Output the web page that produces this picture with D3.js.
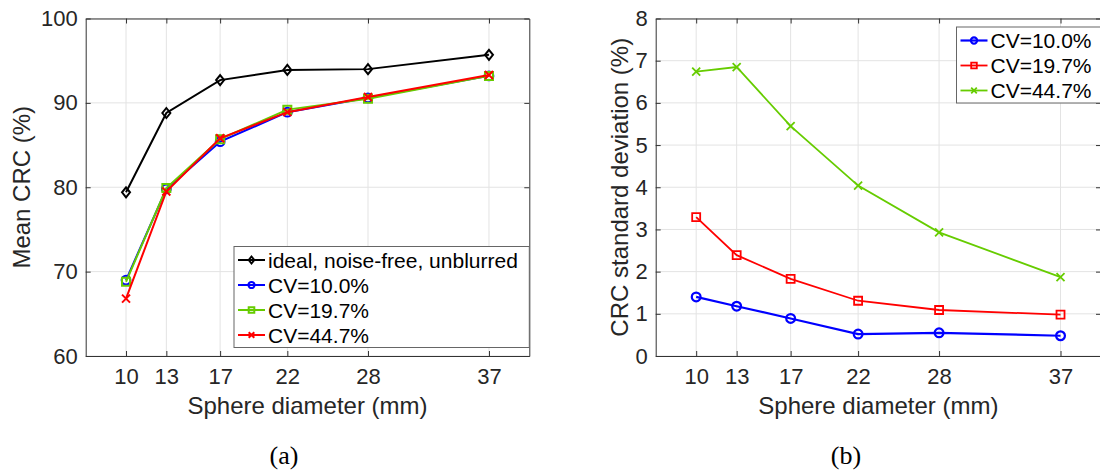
<!DOCTYPE html>
<html>
<head>
<meta charset="utf-8">
<script src="https://cdn.jsdelivr.net/npm/d3@7"></script>
<style>
  body { margin: 0; background: #fff; }
  svg { display: block; font-family: "Liberation Sans", Arial, sans-serif; }
</style>
</head>
<body>
<div id="chart"></div>
<script>
// values
var diameters = [10, 13, 17, 22, 28, 37];

// (a) mean CRC (%)
var crcIdeal = [79.4, 88.8, 92.7, 93.9, 94.0, 95.7];
var crcCV10 = [69.0, 79.8, 85.4, 88.9, 90.6, 93.2];
var crcCV197 = [68.8, 79.9, 85.7, 89.2, 90.5, 93.2];
var crcCV447 = [66.8, 79.5, 85.8, 88.9, 90.7, 93.3];

// (b) CRC standard deviation (%)
var sdCV10 = [1.40, 1.18, 0.89, 0.52, 0.55, 0.48];
var sdCV197 = [3.29, 2.39, 1.83, 1.31, 1.09, 0.98];
var sdCV447 = [6.74, 6.85, 5.45, 4.04, 2.93, 1.87];

var ticksA = [60, 70, 80, 90, 100];
var ticksB = [0, 1, 2, 3, 4, 5, 6, 7, 8];

var W = 1100, H = 476;
var plotTop = 18.5, plotBottom = 356;
var axisCol = "#333", gridCol = "#e3e3e3";

var svg = d3.select("#chart").append("svg")
    .attr("width", W)
    .attr("height", H);

function markerPath(type, s) {
    // s = half size
    if (type == "diamond") return "M0," + (-s * 1.25) + "L" + s + ",0L0," + (s * 1.25) + "L" + (-s) + ",0Z";
    if (type == "square") return "M" + (-s) + "," + (-s) + "h" + (2 * s) + "v" + (2 * s) + "h" + (-2 * s) + "Z";
    if (type == "x") return "M" + (-s) + "," + (-s) + "L" + s + "," + s + "M" + (-s) + "," + s + "L" + s + "," + (-s);
    return "M" + (-s) + ",0a" + s + "," + s + " 0 1,0 " + (2 * s) + ",0a" + s + "," + s + " 0 1,0 " + (-2 * s) + ",0";
}

function drawPanel(p) {
    var x = d3.scaleLinear().domain([7, 40]).range([p.left, p.right]);
    var y = d3.scaleLinear().domain(p.yDomain).range([plotBottom, plotTop]);
    var g = svg.append("g");

    // grid
    g.selectAll(".vgrid").data(diameters).enter().append("line")
        .attr("x1", function (d) { return x(d); }).attr("x2", function (d) { return x(d); })
        .attr("y1", plotTop).attr("y2", plotBottom)
        .attr("stroke", gridCol).attr("stroke-width", 1);
    g.selectAll(".hgrid").data(p.yTicks).enter().append("line")
        .attr("x1", p.left).attr("x2", p.right)
        .attr("y1", function (d) { return y(d); }).attr("y2", function (d) { return y(d); })
        .attr("stroke", gridCol).attr("stroke-width", 1);

    // axes with inward ticks on all four sides
    var tl = 5;
    g.append("g").attr("transform", "translate(0," + plotBottom + ")")
        .call(d3.axisBottom(x).tickValues(diameters).tickSizeInner(-tl).tickSizeOuter(0).tickPadding(12));
    g.append("g").attr("transform", "translate(0," + plotTop + ")")
        .call(d3.axisTop(x).tickValues(diameters).tickSizeInner(-tl).tickSizeOuter(0).tickFormat(""));
    g.append("g").attr("transform", "translate(" + p.left + ",0)")
        .call(d3.axisLeft(y).tickValues(p.yTicks).tickSizeInner(-tl).tickSizeOuter(0).tickPadding(8));
    g.append("g").attr("transform", "translate(" + p.right + ",0)")
        .call(d3.axisRight(y).tickValues(p.yTicks).tickSizeInner(-tl).tickSizeOuter(0).tickFormat(""));
    g.selectAll(".domain").attr("stroke", axisCol);
    g.selectAll(".tick line").attr("stroke", axisCol);
    g.selectAll(".tick text").attr("fill", "#262626").style("font-size", "22px")
        .style("font-family", "Liberation Sans, Arial, sans-serif");

    // series
    p.series.forEach(function (s) {
        var pts = diameters.map(function (d, i) { return [d, s.values[i]]; });
        var line = d3.line().x(function (d) { return x(d[0]); }).y(function (d) { return y(d[1]); });
        g.append("path").datum(pts)
            .attr("d", line)
            .attr("fill", "none")
            .attr("stroke", s.color)
            .attr("stroke-width", s.width);
        g.selectAll(null).data(pts).enter().append("path")
            .attr("transform", function (d) { return "translate(" + x(d[0]) + "," + y(d[1]) + ")"; })
            .attr("d", markerPath(s.marker, s.msize))
            .attr("fill", "none")
            .attr("stroke", s.color)
            .attr("stroke-width", s.width);
    });

    // legend
    var lg = g.append("g");
    var rowH = 25;
    var boxH = p.series.length * rowH + 1;
    lg.append("rect")
        .attr("x", p.legLeft).attr("y", p.legTop)
        .attr("width", p.right - p.legLeft).attr("height", boxH)
        .attr("fill", "#fff").attr("stroke", "#666").attr("stroke-width", 1);
    p.series.forEach(function (s, i) {
        var cy = p.legTop + 13.5 + i * rowH;
        lg.append("line")
            .attr("x1", p.legLeft + 4).attr("x2", p.legLeft + 31)
            .attr("y1", cy).attr("y2", cy)
            .attr("stroke", s.color).attr("stroke-width", s.width);
        lg.append("path")
            .attr("transform", "translate(" + (p.legLeft + 17.5) + "," + cy + ")")
            .attr("d", markerPath(s.marker, s.msize * 0.7))
            .attr("fill", "none").attr("stroke", s.color).attr("stroke-width", s.width);
        lg.append("text")
            .attr("x", p.legLeft + 34).attr("y", cy)
            .attr("dy", "0.36em")
            .style("font-size", "21px")
            .attr("fill", "#000")
            .text(s.name);
    });

    // axis labels
    g.append("text")
        .attr("x", (p.left + p.right) / 2).attr("y", 414)
        .attr("text-anchor", "middle")
        .style("font-size", "24px").attr("fill", "#262626")
        .text("Sphere diameter (mm)");
    g.append("text")
        .attr("transform", "translate(" + p.yLabelX + "," + ((plotTop + plotBottom) / 2) + ") rotate(-90)")
        .attr("dy", "0.35em")
        .attr("text-anchor", "middle")
        .style("font-size", "24px").attr("fill", "#262626")
        .text(p.yLabel);

    // panel letter
    g.append("text")
        .attr("x", p.letterX).attr("y", 464)
        .attr("text-anchor", "middle")
        .style("font-family", "Liberation Serif, Times New Roman, serif")
        .style("font-size", "26px").attr("fill", "#000")
        .text(p.letter);
}

drawPanel({
    left: 85.7, right: 529.3,
    yDomain: [60, 100], yTicks: ticksA,
    yLabel: "Mean CRC (%)", yLabelX: 22,
    letter: "(a)", letterX: 284,
    legLeft: 234, legTop: 246.5,
    series: [
        { name: "ideal, noise-free, unblurred", values: crcIdeal, color: "#000", marker: "diamond", msize: 4, width: 2 },
        { name: "CV=10.0%", values: crcCV10, color: "#0000ff", marker: "circle", msize: 4.4, width: 2 },
        { name: "CV=19.7%", values: crcCV197, color: "#66cc00", marker: "square", msize: 4, width: 2 },
        { name: "CV=44.7%", values: crcCV447, color: "#ff0000", marker: "x", msize: 4, width: 2 }
    ]
});

drawPanel({
    left: 655.7, right: 1101,
    yDomain: [0, 8], yTicks: ticksB,
    yLabel: "CRC standard deviation (%)", yLabelX: 620,
    letter: "(b)", letterX: 846,
    legLeft: 956.5, legTop: 27,
    series: [
        { name: "CV=10.0%", values: sdCV10, color: "#0000ff", marker: "circle", msize: 4.4, width: 2.2 },
        { name: "CV=19.7%", values: sdCV197, color: "#ff0000", marker: "square", msize: 4, width: 1.8 },
        { name: "CV=44.7%", values: sdCV447, color: "#66cc00", marker: "x", msize: 4, width: 1.8 }
    ]
});
</script>
</body>
</html>
